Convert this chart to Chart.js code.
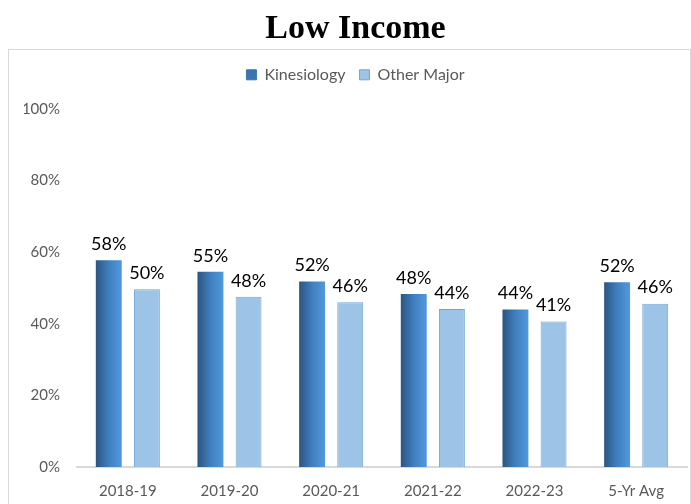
<!DOCTYPE html>
<html><head><meta charset="utf-8">
<script src="https://cdn.jsdelivr.net/npm/chart.js@4.4.1/dist/chart.umd.min.js"></script>
<style>html,body{margin:0;padding:0;background:#fff;}#wrap{width:691px;height:504px;position:relative;}</style>
</head><body><div id="wrap"><canvas id="c" width="691" height="504"></canvas></div>
<script>
const categories = ["2018-19","2019-20","2020-21","2021-22","2022-23","5-Yr Avg"];
const kinesiology = [57.7, 54.5, 51.8, 48.3, 44.0, 51.6];
const otherMajor = [49.6, 47.5, 46.0, 44.1, 40.6, 45.6];
const seriesNames = ["Kinesiology","Other Major"];
const yTicks = [0,20,40,60,80,100];
const titleText = "Low Income";

const FONT = "Lato, 'Liberation Sans', sans-serif";

const framePlugin = {
  id:'frame',
  afterInit(chart){
    const lg = chart.legend;
    if (lg && !lg._patched){
      const orig = lg.fit.bind(lg);
      lg.fit = function(){ orig(); this.height += 16; };
      lg._patched = true;
    }
  },
  beforeDraw(chart){
    const c = chart.ctx;
    c.save();
    c.fillStyle='#fff'; c.fillRect(0,0,chart.width,chart.height);
    c.strokeStyle='#d9d9d9'; c.lineWidth=1;
    c.strokeRect(8.5,49.5,chart.width-9,chart.height-49);
    c.restore();
  }
};
const gradPlugin = {
  id:'grad',
  beforeDatasetsDraw(chart){
    const c = chart.ctx;
    chart.getDatasetMeta(0).data.forEach(el=>{
      const l = el.x - el.width/2, r = el.x + el.width/2;
      const g = c.createLinearGradient(l,0,r,0);
      g.addColorStop(0,'#2c5580');
      g.addColorStop(0.5,'#3f7fbf');
      g.addColorStop(1,'#5199dc');
      el.options.backgroundColor = g;
    });
  }
};
const labelPlugin = {
  id:'labels',
  afterDatasetsDraw(chart){
    const c = chart.ctx;
    c.save();
    c.font = "18px " + FONT;
    c.fillStyle = '#000';
    c.textAlign='center'; c.textBaseline='bottom';
    chart.data.datasets.forEach((ds,di)=>{
      chart.getDatasetMeta(di).data.forEach((el,i)=>{
        c.fillText(Math.round(ds.data[i])+'%', el.x, el.y-7);
      });
    });
    c.restore();
  }
};

new Chart(document.getElementById('c'), {
  type:'bar',
  data:{
    labels: categories,
    datasets:[
      {label: seriesNames[0], data: kinesiology, backgroundColor: ()=> '#3f7fbf', borderWidth:0,
       categoryPercentage:0.75, barPercentage:0.68},
      {label: seriesNames[1], data: otherMajor, backgroundColor: '#9dc3e6', borderColor:'#6fa6da', borderWidth:1,
       categoryPercentage:0.75, barPercentage:0.68}
    ]
  },
  options:{
    responsive:false, animation:false, devicePixelRatio:1,
    layout:{padding:{left:24,right:4,top:0,bottom:0}},
    plugins:{
      title:{display:true, text:titleText, color:'#000',
        font:{family:"'Liberation Serif', 'Times New Roman', serif", size:34, weight:'bold'},
        padding:{top:9,bottom:3}},
      legend:{position:'top', labels:{
        color:'#595959', font:{family:FONT, size:16}, boxWidth:10, boxHeight:10, padding:14,
        generateLabels(chart){
          return chart.data.datasets.map((ds,i)=>({text:ds.label, fillStyle: i===0?'#3b75b2':'#9dc3e6',
            strokeStyle: i===0?'#3b75b2':'#6fa6da', lineWidth:1, datasetIndex:i, fontColor:'#595959'}));
        }}},
      tooltip:{enabled:false}
    },
    scales:{
      x:{grid:{display:false, drawTicks:false}, border:{display:true, color:'#d9d9d9', width:2},
        afterFit(s){ s.height = 37; },
        ticks:{color:'#595959', font:{family:FONT, size:15}, padding:15}},
      y:{min:0, max:100, grid:{display:false, drawTicks:false}, border:{display:false},
        afterBuildTicks(s){ s.ticks = yTicks.map(v=>({value:v})); },
        afterFit(s){ s.width = 77-24; },
        ticks:{color:'#595959', font:{family:FONT, size:15}, padding:17, callback:v=>v+'%'}}
    }
  },
  plugins:[framePlugin, gradPlugin, labelPlugin]
});
</script></body></html>
